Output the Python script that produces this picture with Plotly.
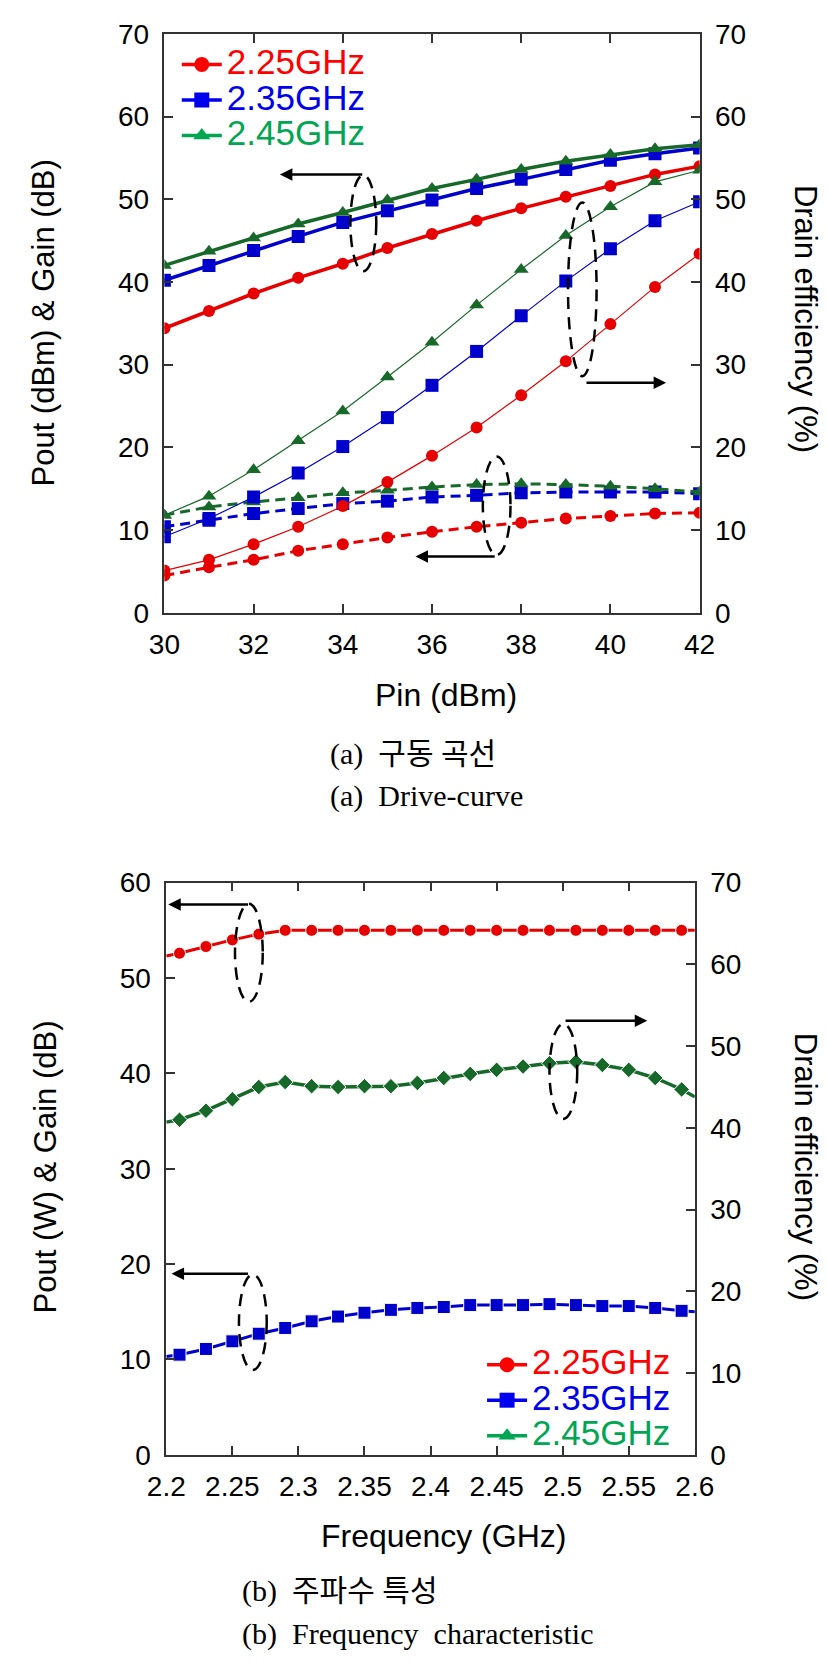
import plotly.graph_objects as go

# ---------------- data: (a) drive curve ----------------
pin = [30, 31, 32, 33, 34, 35, 36, 37, 38, 39, 40, 41, 42]
pout_225 = [34.4, 36.5, 38.6, 40.5, 42.2, 44.1, 45.8, 47.4, 48.9, 50.3, 51.6, 53.0, 54.0]
pout_235 = [40.2, 42.0, 43.8, 45.5, 47.2, 48.6, 49.9, 51.3, 52.4, 53.6, 54.7, 55.5, 56.2]
pout_245 = [42.0, 43.7, 45.3, 47.0, 48.4, 49.9, 51.3, 52.4, 53.6, 54.6, 55.4, 56.1, 56.6]
de_225 = [5.1, 6.4, 8.3, 10.4, 12.9, 15.8, 19.0, 22.4, 26.3, 30.4, 34.9, 39.4, 43.4]
de_235 = [9.2, 11.4, 14.0, 16.9, 20.1, 23.6, 27.5, 31.6, 35.9, 40.1, 44.0, 47.4, 49.7]
de_245 = [11.8, 14.1, 17.3, 20.8, 24.4, 28.5, 32.7, 37.2, 41.5, 45.6, 49.1, 52.1, 53.5]
gain_225 = [4.5, 5.5, 6.4, 7.5, 8.3, 9.1, 9.8, 10.4, 10.9, 11.4, 11.7, 12.0, 12.1]
gain_235 = [10.4, 11.2, 12.0, 12.6, 13.2, 13.5, 14.0, 14.2, 14.5, 14.6, 14.6, 14.6, 14.4]
gain_245 = [11.8, 12.8, 13.4, 13.9, 14.5, 14.8, 15.2, 15.5, 15.6, 15.5, 15.3, 15.0, 14.6]
pin_ticks = [30, 32, 34, 36, 38, 40, 42]

# ---------------- data: (b) frequency characteristic ----------------
freq = [2.20, 2.21, 2.23, 2.25, 2.27, 2.29, 2.31, 2.33, 2.35, 2.37, 2.39, 2.41,
        2.43, 2.45, 2.47, 2.49, 2.51, 2.53, 2.55, 2.57, 2.59, 2.60]
pout_w = [52.3, 52.6, 53.3, 54.0, 54.6, 55.0, 55.0, 55.0, 55.0, 55.0, 55.0, 55.0,
          55.0, 55.0, 55.0, 55.0, 55.0, 55.0, 55.0, 55.0, 55.0, 55.0]
de_f = [40.7, 41.0, 42.1, 43.5, 45.0, 45.6, 45.1, 45.0, 45.1, 45.1, 45.5, 46.1,
        46.6, 47.1, 47.5, 47.9, 48.1, 47.7, 47.1, 46.1, 44.7, 43.8]
gain_f = [10.3, 10.5, 11.1, 11.9, 12.7, 13.3, 14.0, 14.5, 14.9, 15.2, 15.4, 15.5,
          15.7, 15.7, 15.7, 15.8, 15.7, 15.6, 15.6, 15.4, 15.1, 15.0]
freq_ticks = [2.2, 2.25, 2.3, 2.35, 2.4, 2.45, 2.5, 2.55, 2.6]
freq_ticktext = ["2.2", "2.25", "2.3", "2.35", "2.4", "2.45", "2.5", "2.55", "2.6"]
legend_names = ["2.25GHz", "2.35GHz", "2.45GHz"]

RED = "#E60000"
BLUE = "#0000CC"
GREEN = "#17692A"
L_RED = "#FF0000"
L_BLUE = "#0000EE"
L_GREEN = "#00A651"

fig = go.Figure()

# ---- (a) traces ----
specs = [(pout_225, de_225, gain_225, RED, "circle", 12),
         (pout_235, de_235, gain_235, BLUE, "square", 13),
         (pout_245, de_245, gain_245, GREEN, "triangle-up", 13)]
for pout, de, gain, col, sym, ms in specs:
    fig.add_trace(go.Scatter(x=pin, y=pout, xaxis="x", yaxis="y", mode="lines+markers",
                             line=dict(color=col, width=3.5),
                             marker=dict(symbol=sym, size=ms, color=col), showlegend=False))
    fig.add_trace(go.Scatter(x=pin, y=de, xaxis="x", yaxis="y2", mode="lines+markers",
                             line=dict(color=col, width=1.2),
                             marker=dict(symbol=sym, size=ms, color=col), showlegend=False))
    fig.add_trace(go.Scatter(x=pin, y=gain, xaxis="x", yaxis="y", mode="lines+markers",
                             line=dict(color=col, width=3, dash="10px,6px"),
                             marker=dict(symbol=sym, size=ms, color=col), showlegend=False))

# ---- (b) traces ----
def sizes(n, s):
    return [0] + [s] * (n - 2) + [0]

fig.add_trace(go.Scatter(x=freq, y=pout_w, xaxis="x2", yaxis="y3", mode="lines+markers",
                         line=dict(color=RED, width=3),
                         marker=dict(symbol="circle", size=sizes(len(freq), 12), color=RED,
                                     opacity=1),
                         showlegend=False))
fig.add_trace(go.Scatter(x=freq, y=de_f, xaxis="x2", yaxis="y4", mode="lines+markers",
                         line=dict(color=GREEN, width=3.5),
                         marker=dict(symbol="diamond", size=sizes(len(freq), 12), color=GREEN,
                                     opacity=1),
                         showlegend=False))
fig.add_trace(go.Scatter(x=freq, y=gain_f, xaxis="x2", yaxis="y3", mode="lines+markers",
                         line=dict(color=BLUE, width=3),
                         marker=dict(symbol="square", size=sizes(len(freq), 13), color=BLUE,
                                     opacity=1),
                         showlegend=False))

# ---- legend entries ----
leg_specs = [(legend_names[0], L_RED, "circle"), (legend_names[1], L_BLUE, "square"),
             (legend_names[2], L_GREEN, "triangle-up")]
for lg, xa, ya in [("legend", "x", "y"), ("legend2", "x2", "y3")]:
    for name, col, sym in leg_specs:
        fig.add_trace(go.Scatter(x=[None], y=[None], xaxis=xa, yaxis=ya, mode="lines+markers",
                                 name=f'<span style="color:{col};font-size:35px">{name}</span>',
                                 line=dict(color=col, width=3.5),
                                 marker=dict(symbol=sym, size=15, color=col),
                                 legend=lg, showlegend=True))

AX = dict(showline=True, linecolor="#333333", linewidth=1.5, ticks="inside", ticklen=9,
          tickwidth=1.5, tickcolor="#333333", showgrid=False, zeroline=False,
          tickfont=dict(family="Liberation Sans, Arial", size=28, color="black"))

TOP = [1 - 601 / 1663, 1 - 11 / 1663]
BOT = [1 - 1459 / 1663, 1 - 876 / 1663]

fig.update_layout(
    width=827, height=1663, margin=dict(l=0, r=0, t=0, b=0),
    paper_bgcolor="white", plot_bgcolor="white",
    xaxis=dict(AX, domain=[144 / 827, 705 / 827], anchor="y", range=[30, 42],
               tickvals=pin_ticks, mirror="ticks", ticklabelstandoff=6),
    yaxis=dict(AX, domain=TOP, anchor="x", range=[0, 70], dtick=10, ticklabelstandoff=8),
    yaxis2=dict(AX, overlaying="y", side="right", anchor="x", range=[0, 70], dtick=10,
                ticklabelstandoff=8),
    xaxis2=dict(AX, domain=[146 / 827, 700 / 827], anchor="y3", range=[2.2, 2.6],
                tickvals=freq_ticks, ticktext=freq_ticktext, mirror="ticks", ticklabelstandoff=6),
    yaxis3=dict(AX, domain=BOT, anchor="x2", range=[0, 60], dtick=10, ticklabelstandoff=8),
    yaxis4=dict(AX, overlaying="y3", side="right", anchor="x2", range=[0, 70], dtick=10,
                ticklabelstandoff=8),
    legend=dict(x=157 / 827, y=1 - 19 / 1663, xanchor="left", yanchor="top",
                bgcolor="rgba(0,0,0,0)", font=dict(size=25, family="Liberation Sans, Arial"),
                itemwidth=40, tracegroupgap=0),
    legend2=dict(x=477 / 827, y=1 - 1344 / 1663, xanchor="left", yanchor="top",
                 bgcolor="rgba(0,0,0,0)", font=dict(size=25, family="Liberation Sans, Arial"),
                 itemwidth=40, tracegroupgap=0),
    showlegend=True,
)

# ---- ellipses & arrows (annotation graphics) ----
shapes = []
def ell(xr, yr, x0, x1, y0, y1):
    shapes.append(dict(type="circle", xref=xr, yref=yr, x0=x0, x1=x1, y0=y0, y1=y1,
                       line=dict(color="black", width=2.5, dash="12px,8px")))

def seg(xr, yr, x0, y0, x1, y1):
    shapes.append(dict(type="line", xref=xr, yref=yr, x0=x0, x1=x1, y0=y0, y1=y1,
                       line=dict(color="black", width=2.5)))

ell("x", "y", 34.17, 34.75, 41.3, 52.9)
ell("x", "y2", 39.05, 39.69, 28.6, 49.6)
ell("x", "y", 37.14, 37.76, 7.0, 18.9)
ell("x2", "y3", 2.252, 2.273, 47.5, 57.8)
ell("x2", "y4", 2.490, 2.511, 41.1, 52.7)
ell("x2", "y3", 2.255, 2.276, 8.9, 18.9)

annotations = []
def arrow(xr, yr, tx, ty, hx, hy):
    annotations.append(dict(xref=xr, yref=yr, axref=xr, ayref=yr, x=hx, y=hy, ax=tx, ay=ty,
                            text="", showarrow=True, arrowhead=2, arrowsize=1,
                            arrowwidth=2.5, arrowcolor="black"))

arrow("x", "y", 34.47, 53.0, 32.59, 53.0)
arrow("x", "y2", 39.43, 27.8, 41.25, 27.8)
arrow("x", "y", 37.44, 6.8, 35.63, 6.8)
arrow("x2", "y3", 2.263, 57.7, 2.2015, 57.7)
arrow("x2", "y4", 2.501, 53.1, 2.564, 53.1)
arrow("x2", "y3", 2.263, 19.0, 2.204, 19.0)

SANS = "Liberation Sans, Arial"
SERIF = "Liberation Serif, Times New Roman, Noto Sans CJK KR"

def txt(x, y, s, size, fam, angle=0, xanchor="center"):
    annotations.append(dict(xref="paper", yref="paper", x=x / 827, y=1 - y / 1663, text=s,
                            showarrow=False, textangle=angle, xanchor=xanchor, yanchor="middle",
                            font=dict(family=fam, size=size, color="black")))

txt(17, 306, "Pout (dBm) &amp; Gain (dB)", 31, SANS, -90)
txt(816, 301, "Drain efficiency (%)", 31, SANS, 90)
txt(439, 685, "Pin (dBm)", 32, SANS)
txt(315, 745, "(a)\u00a0\u00a0구동\u00a0곡선", 30, SERIF, xanchor="left")
txt(315, 788, "(a)\u00a0\u00a0Drive-curve", 30, SERIF, xanchor="left")

txt(19, 1166, "Pout (W) &amp; Gain (dB)", 31, SANS, -90)
txt(816, 1165, "Drain efficiency (%)", 31, SANS, 90)
txt(437, 1542, "Frequency (GHz)", 32, SANS)
txt(223, 1598, "(b)\u00a0\u00a0주파수\u00a0특성", 30, SERIF, xanchor="left")
txt(223, 1642, "(b)\u00a0\u00a0Frequency\u00a0\u00a0characteristic", 30, SERIF, xanchor="left")

fig.update_layout(shapes=shapes, annotations=annotations)

fig.write_html("out.html")
